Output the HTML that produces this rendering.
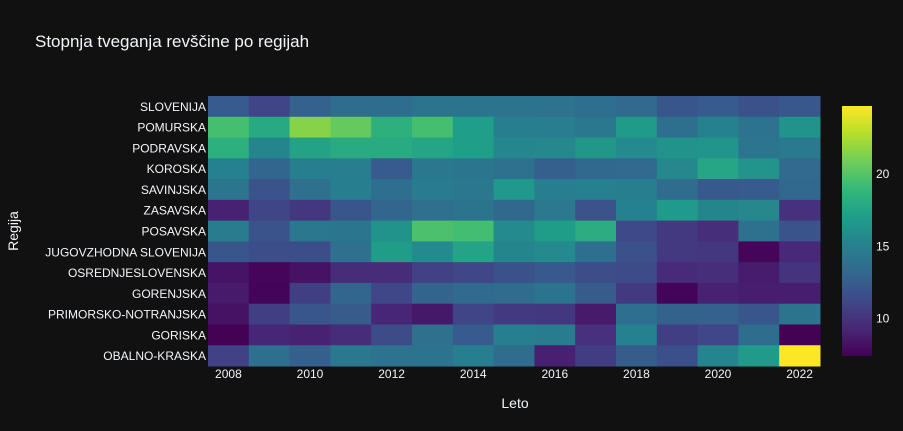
<!DOCTYPE html>
<html><head><meta charset="utf-8"><style>
html,body{margin:0;padding:0;background:#111111;}
svg{display:block;font-family:"Liberation Sans",sans-serif;}
</style></head><body>
<svg id="chart" width="903" height="431">
<rect width="903" height="431" fill="#111111"/>
<text x="35" y="47" fill="#f2f5fa" font-size="17">Stopnja tveganja revščine po regijah</text>
<text x="515" y="408" fill="#f2f5fa" font-size="14" text-anchor="middle">Leto</text>
<text x="18" y="231" fill="#f2f5fa" font-size="14" text-anchor="middle" transform="rotate(-90 18 231)">Regija</text>
<g id="cells"></g><g id="ylab"></g><g id="xlab"></g>
<defs><linearGradient id="cbg" x1="0" y1="1" x2="0" y2="0"></linearGradient></defs>
<rect x="842" y="106" width="30" height="250" fill="url(#cbg)"/>
<g id="cbticks"></g>
</svg>
<script>
const years=[2008,2009,2010,2011,2012,2013,2014,2015,2016,2017,2018,2019,2020,2021,2022];
const regions=["SLOVENIJA","POMURSKA","PODRAVSKA","KOROSKA","SAVINJSKA","ZASAVSKA","POSAVSKA","JUGOVZHODNA SLOVENIJA","OSREDNJESLOVENSKA","GORENJSKA","PRIMORSKO-NOTRANJSKA","GORISKA","OBALNO-KRASKA"];
const xTicks=[2008,2010,2012,2014,2016,2018,2020,2022];
const cbTicks=[10,15,20];
const vSlovenija=[12.3,11.0,12.7,13.5,13.5,14.0,14.0,14.0,13.9,13.6,13.3,12.0,12.3,11.7,12.1];
const vPomurska=[19.5,17.8,21.5,20.5,18.3,19.5,17.0,14.8,14.7,14.3,16.8,13.6,15.0,13.9,16.2];
const vPodravska=[18.3,15.3,17.3,17.9,17.9,17.5,17.1,15.4,15.5,16.5,15.6,16.2,16.4,14.2,14.5];
const vKoroska=[15.0,13.0,14.8,14.7,12.3,14.3,14.2,13.8,12.6,13.2,13.3,15.5,17.6,16.3,13.3];
const vSavinjska=[14.1,11.8,13.7,14.8,13.6,14.6,14.3,16.6,14.8,14.9,14.8,13.4,12.2,12.3,13.2];
const vZasavska=[9.0,11.0,10.2,12.0,13.0,13.7,14.0,13.2,14.4,11.8,15.0,16.7,15.3,15.5,9.8];
const vPosavska=[14.6,11.8,14.3,14.2,16.2,19.7,19.4,15.6,16.9,18.1,11.2,10.3,9.6,13.8,11.8];
const vJugovzhodna=[12.0,11.5,11.5,13.7,16.9,15.6,17.4,15.3,15.6,13.6,11.7,10.3,10.2,7.6,9.3];
const vOsrednje=[8.3,7.6,8.2,9.5,9.5,10.8,11.1,11.7,12.2,11.5,11.3,9.4,9.6,8.7,10.0];
const vGorenjska=[8.6,7.5,10.6,13.0,11.1,12.9,13.3,13.4,14.0,12.4,10.3,7.5,9.0,8.8,8.8];
const vPrimorsko=[8.2,10.6,12.0,12.4,9.2,8.5,11.0,10.3,10.2,8.6,13.6,12.8,12.7,12.0,14.0];
const vGoriska=[7.4,9.2,9.0,9.5,11.3,13.7,12.3,14.8,14.6,9.8,15.0,10.6,11.1,13.5,7.4];
const vObalno=[10.8,13.6,12.6,14.3,13.9,14.0,14.8,13.4,8.9,10.5,12.4,11.6,15.2,16.8,24.7];
const values=[vSlovenija,vPomurska,vPodravska,vKoroska,vSavinjska,vZasavska,vPosavska,vJugovzhodna,vOsrednje,vGorenjska,vPrimorsko,vGoriska,vObalno];

const NS="http://www.w3.org/2000/svg";
const X0=208,X1=820,Y0=96,Y1=366;
const cw=(X1-X0)/years.length, rh=(Y1-Y0)/regions.length;
const zmin=7.35,zmax=24.7;
const vir=["#440154","#482878","#3e4989","#31688e","#26828e","#1f9e89","#35b779","#6ece58","#b5de2b","#fde725"];
function hex(h){return [1,3,5].map(i=>parseInt(h.substr(i,2),16));}
function color(v){let t=Math.max(0,Math.min(1,(v-zmin)/(zmax-zmin)))*(vir.length-1);let i=Math.min(Math.floor(t),vir.length-2),f=t-i;const a=hex(vir[i]),b=hex(vir[i+1]);return "rgb("+a.map((c,k)=>Math.round(c+(b[k]-c)*f)).join(",")+")";}
const xPos=y=>X0+(years.indexOf(y)+0.5)*cw;
const yPos=r=>Y0+(r+0.5)*rh;
const cells=document.getElementById("cells");
values.forEach((row,r)=>row.forEach((v,c)=>{
 const el=document.createElementNS(NS,"rect");
 el.setAttribute("x",X0+c*cw);el.setAttribute("y",Y0+r*rh);
 el.setAttribute("width",cw+0.5);el.setAttribute("height",rh+0.5);
 el.setAttribute("fill",color(v));
 
 
 cells.appendChild(el);
}));
const yl=document.getElementById("ylab");
regions.forEach((n,r)=>{
 const t=document.createElementNS(NS,"text");
 t.setAttribute("x",206);t.setAttribute("y",yPos(r)+4.5);
 t.setAttribute("text-anchor","end");t.setAttribute("fill","#f2f5fa");t.setAttribute("font-size","12");
 t.textContent=n;
 
 
 yl.appendChild(t);
});
const xl=document.getElementById("xlab");
xTicks.forEach(y=>{
 const t=document.createElementNS(NS,"text");
 t.setAttribute("x",xPos(y));t.setAttribute("y",378);
 t.setAttribute("text-anchor","middle");t.setAttribute("fill","#f2f5fa");t.setAttribute("font-size","12");
 t.textContent=y;
 
 
 xl.appendChild(t);
});
const g=document.getElementById("cbg");
vir.forEach((c,i)=>{const s=document.createElementNS(NS,"stop");s.setAttribute("offset",i/(vir.length-1));s.setAttribute("stop-color",c);g.appendChild(s);});
const cb=document.getElementById("cbticks");
cbTicks.forEach(v=>{
 const t=document.createElementNS(NS,"text");
 const y=356-(v-zmin)/(zmax-zmin)*250;
 t.setAttribute("x",876);t.setAttribute("y",y+4.5);
 t.setAttribute("fill","#f2f5fa");t.setAttribute("font-size","12");
 t.textContent=v;
 
 
 cb.appendChild(t);
});
</script>
</body></html>
